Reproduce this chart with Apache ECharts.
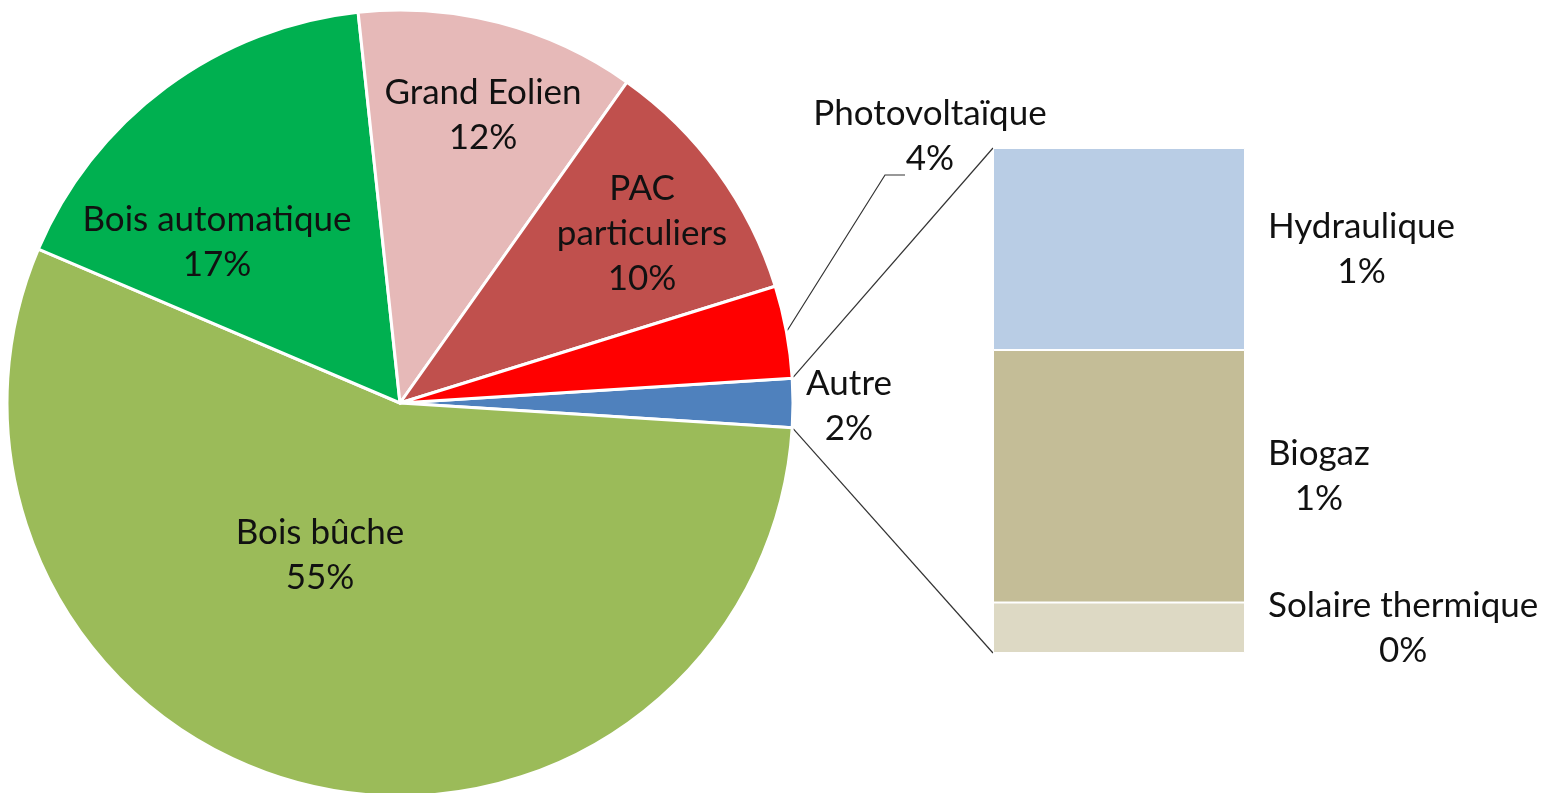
<!DOCTYPE html>
<html>
<head>
<meta charset="utf-8">
<title>Production EnR</title>
<script src="https://cdn.jsdelivr.net/npm/echarts@6/dist/echarts.min.js"></script>
<style>
    html, body { margin: 0; padding: 0; background: #fff; }
    #chart { width: 1547px; height: 793px; }
</style>
</head>
<body>
<div id="chart"></div>
<script>
    // valeurs (% de la production)
    var mainNames = ['Bois bûche', 'Bois automatique', 'Grand Eolien', 'PAC particuliers', 'Photovoltaïque'];
    var mainLabels = ['Bois bûche', 'Bois automatique', 'Grand Eolien', 'PAC\nparticuliers', 'Photovoltaïque'];
    var mainValues = [55.4, 16.9, 11.5, 10.4, 3.8];
    var mainColors = ['#9BBB59', '#00B050', '#E6B9B8', '#C0504D', '#FF0000'];

    var otherName = 'Autre';
    var otherColor = '#4F81BD';
    var otherNames = ['Hydraulique', 'Biogaz', 'Solaire thermique'];
    var otherValues = [0.8, 1.0, 0.2];
    var otherColors = ['#B9CDE5', '#C4BD97', '#DDD9C4'];

    var otherSum = otherValues.reduce(function (a, b) { return a + b; }, 0);
    var total = mainValues.reduce(function (a, b) { return a + b; }, 0) + otherSum;

    // mise en page
    var cx = 400, cy = 403, R = 393;
    var halfAngle = otherSum / total * 180;
    // position des étiquettes (décalage / centre), ordre: Autre, puis mainNames
    var pieLabelPos = [[449, 3], [-80, 152], [-183, -161], [83, -288], [242, -169], [530, -267]];
    var barLeft = 993, barTop = 148, barWidth = 252, barHeight = 505;
    var font = 'Lato';
    var fontSize = 35;
    var textColor = '#111';
    var lineColor = '#333';

    var pieData = [{
        name: otherName, value: otherSum,
        itemStyle: { color: otherColor }
    }];
    mainNames.forEach(function (n, i) {
        var item = { name: n, value: mainValues[i], lbl: mainLabels[i], itemStyle: { color: mainColors[i] } };
        if (n === 'Photovoltaïque') {
            item.labelLine = { show: true };
        }
        pieData.push(item);
    });
    var pvIndex = mainNames.indexOf('Photovoltaïque') + 1;

    var barSeries = [];
    for (var i = otherNames.length - 1; i >= 0; i--) {
        barSeries.push({
            name: otherNames[i],
            type: 'bar',
            stack: 'autre',
            barWidth: '100%',
            data: [otherValues[i]],
            itemStyle: { color: otherColors[i], borderColor: '#fff', borderWidth: 1 },
            label: {
                show: true,
                position: 'right',
                color: textColor,
                fontFamily: font,
                fontSize: fontSize,
                lineHeight: 45,
                formatter: function (p) {
                    return p.seriesName + '\n' + Math.round(p.value / total * 100) + '%';
                }
            },
            labelLayout: function (p) {
                return {
                    x: p.rect.x + p.rect.width + 23 + p.labelRect.width / 2,
                    y: p.rect.y + p.rect.height / 2,
                    align: 'center',
                    verticalAlign: 'middle'
                };
            }
        });
    }

    var option = {
        animation: false,
        backgroundColor: '#fff',
        grid: { left: barLeft, top: barTop, width: barWidth, height: barHeight, containLabel: false },
        xAxis: { type: 'category', data: [otherName], show: false },
        yAxis: { type: 'value', min: 0, max: otherSum, show: false },
        series: [{
            type: 'pie',
            center: [cx, cy],
            radius: R,
            startAngle: halfAngle,
            clockwise: true,
            avoidLabelOverlap: false,
            data: pieData,
            itemStyle: { borderColor: '#fff', borderWidth: 3 },
            label: {
                show: true,
                position: 'outside',
                color: textColor,
                fontFamily: font,
                fontSize: fontSize,
                lineHeight: 45,
                formatter: function (p) {
                    var n = p.data.lbl || p.name;
                    return n + '\n' + Math.round(p.percent) + '%';
                }
            },
            labelLine: {
                show: false,
                length: 10,
                length2: 20,
                lineStyle: { color: lineColor, width: 1.2 }
            },
            labelLayout: function (p) {
                var off = pieLabelPos[p.dataIndex];
                var x = cx + off[0], y = cy + off[1];
                var res = { x: x, y: y, align: 'center', verticalAlign: 'middle' };
                if (p.dataIndex === pvIndex && p.labelLinePoints) {
                    res.labelLinePoints = [p.labelLinePoints[0], [x - 45, y + 39], [x - 25, y + 39]];
                }
                return res;
            }
        }].concat(barSeries)
    };

    var myChart = echarts.init(document.getElementById('chart'));
    myChart.setOption(option);

    // traits de liaison secteur "Autre" -> barre
    var a = halfAngle * Math.PI / 180;
    var px = cx + R * Math.cos(a);
    var yTop = myChart.convertToPixel({ yAxisIndex: 0 }, otherSum);
    var yBot = myChart.convertToPixel({ yAxisIndex: 0 }, 0);
    myChart.setOption({
        graphic: [{
            type: 'line',
            shape: { x1: px, y1: cy - R * Math.sin(a), x2: barLeft, y2: yTop },
            style: { stroke: lineColor, lineWidth: 1.2 }
        }, {
            type: 'line',
            shape: { x1: px, y1: cy + R * Math.sin(a), x2: barLeft, y2: yBot },
            style: { stroke: lineColor, lineWidth: 1.2 }
        }]
    });
</script>
</body>
</html>
